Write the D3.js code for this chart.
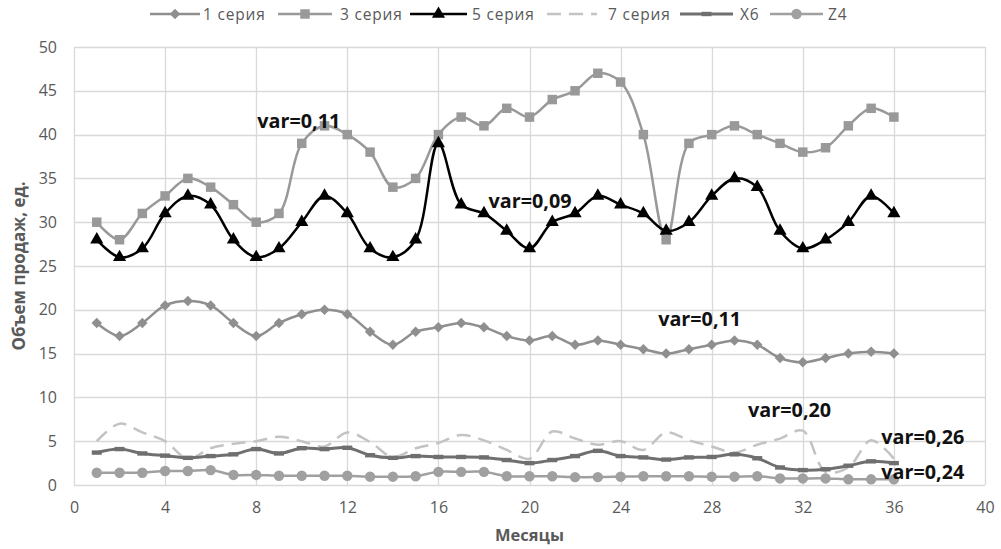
<!DOCTYPE html>
<html>
<head>
<meta charset="utf-8">
<script src="https://cdn.jsdelivr.net/npm/d3@7"></script>
<style>
  html, body { margin: 0; padding: 0; background: #fff; }
  svg { display: block; font-family: "Open Sans", "Noto Sans", sans-serif; }
</style>
</head>
<body>
<svg id="chart" width="1001" height="549"></svg>
<script>
// Monthly sales volumes per series
const months = [1,2,3,4,5,6,7,8,9,10,11,12,13,14,15,16,17,18,19,20,21,22,23,24,25,26,27,28,29,30,31,32,33,34,35,36];
const series1 = [18.5,17,18.5,20.5,21,20.5,18.5,17,18.5,19.5,20,19.5,17.5,16,17.5,18,18.5,18,17,16.5,17,16,16.5,16,15.5,15,15.5,16,16.5,16,14.5,14,14.5,15,15.2,15];
const series3 = [30,28,31,33,35,34,32,30,31,39,41,40,38,34,35,40,42,41,43,42,44,45,47,46,40,28,39,40,41,40,39,38,38.5,41,43,42];
const series5 = [28,26,27,31,33,32,28,26,27,30,33,31,27,26,28,39,32,31,29,27,30,31,33,32,31,29,30,33,35,34,29,27,28,30,33,31];
const series7 = [5,7,6,5,3,4.2,4.7,5,5.5,5,4.4,6,4.9,3.2,4.2,4.8,5.7,5.1,4,3,6.1,5.3,4.6,5,4,6,5.1,4.4,3.7,4.6,5.3,6.2,1.5,2,5.1,3];
const seriesX6 = [3.7,4.1,3.6,3.35,3.1,3.3,3.5,4.1,3.6,4.2,4.1,4.25,3.4,3.1,3.3,3.2,3.2,3.15,2.85,2.5,2.85,3.3,3.9,3.3,3.15,2.9,3.15,3.2,3.5,3.05,2,1.7,1.8,2.2,2.7,2.5];
const seriesZ4 = [1.4,1.4,1.4,1.6,1.6,1.7,1.15,1.15,1.05,1.05,1.05,1.05,0.95,0.95,1,1.5,1.5,1.5,1,1,1,0.9,0.9,0.95,1,1,1,0.95,0.95,1,0.75,0.75,0.75,0.65,0.65,0.65];

const seriesNames = ["1 серия", "3 серия", "5 серия", "7 серия", "X6", "Z4"];
const xTicks = [0,4,8,12,16,20,24,28,32,36,40];
const yTicks = [0,5,10,15,20,25,30,35,40,45,50];

// Variation labels: [text, month position, value position]
const varLabels = [
  ["var=0,11", 8.05, 40.8],
  ["var=0,09", 18.2, 31.6],
  ["var=0,11", 25.65, 18.1],
  ["var=0,20", 29.6, 7.8],
  ["var=0,26", 35.45, 4.7],
  ["var=0,24", 35.45, 0.7]
];

const svg = d3.select("#chart");
const x = d3.scaleLinear().domain([0, 40]).range([74, 985]);
const y = d3.scaleLinear().domain([0, 50]).range([485, 47]);

const gridColor = "#d9d9d9";
const textColor = "#595959";

// Grid
svg.append("g").selectAll("line.h").data(yTicks).join("line")
  .attr("x1", x(0)).attr("x2", x(40))
  .attr("y1", d => Math.round(y(d)) + 0.5).attr("y2", d => Math.round(y(d)) + 0.5)
  .attr("stroke", gridColor).attr("stroke-width", 1.3);
svg.append("g").selectAll("line.v").data(xTicks).join("line")
  .attr("y1", y(0)).attr("y2", y(50))
  .attr("x1", d => Math.round(x(d)) + 0.5).attr("x2", d => Math.round(x(d)) + 0.5)
  .attr("stroke", gridColor).attr("stroke-width", 1.3);

// Axes (labels only, lines come from the grid)
const yAxis = svg.append("g").attr("transform", `translate(${x(0)},0)`)
  .call(d3.axisLeft(y).tickValues(yTicks).tickSize(0).tickPadding(17).tickFormat(d3.format("d")));
const xAxis = svg.append("g").attr("transform", `translate(0,${y(0)})`)
  .call(d3.axisBottom(x).tickValues(xTicks).tickSize(0).tickPadding(17).tickFormat(d3.format("d")));
[yAxis, xAxis].forEach(g => {
  g.select(".domain").remove();
  g.selectAll("text").attr("fill", textColor).attr("font-size", 16)
    .attr("font-family", "'Open Sans', 'Noto Sans', sans-serif");
});

// Axis titles
svg.append("text").attr("x", x(20)).attr("y", 541).attr("text-anchor", "middle")
  .attr("font-size", 16.5).attr("font-weight", "bold").attr("fill", textColor)
  .text("Месяцы");
svg.append("text").attr("transform", `translate(25,${y(25)}) rotate(-90)`)
  .attr("text-anchor", "middle").attr("font-size", 17).attr("font-weight", "bold")
  .attr("fill", textColor).text("Объем продаж, ед.");

// Marker shapes
const sym = {
  diamond: d3.symbol().type(d3.symbolDiamond2).size(70),
  square: d3.symbol().type(d3.symbolSquare).size(90),
  triangle: d3.symbol().type(d3.symbolTriangle).size(75),
  circle: d3.symbol().type(d3.symbolCircle).size(85)
};

const specs = [
  { name: seriesNames[0], data: series1, color: "#8f8f8f", width: 2.5, marker: "diamond" },
  { name: seriesNames[1], data: series3, color: "#999999", width: 2.5, marker: "square" },
  { name: seriesNames[2], data: series5, color: "#000000", width: 2.5, marker: "triangle" },
  { name: seriesNames[3], data: series7, color: "#c3c3c3", width: 2.5, marker: null, dash: "14,8" },
  { name: seriesNames[4], data: seriesX6, color: "#6f6f6f", width: 3, marker: "dash" },
  { name: seriesNames[5], data: seriesZ4, color: "#a0a0a0", width: 2.5, marker: "circle" }
];

const line = d3.line().x(d => x(d[0])).y(d => y(d[1])).curve(d3.curveCatmullRom.alpha(0.5));

function drawMarker(g, kind, color) {
  if (kind === "dash") {
    g.append("rect").attr("x", -5).attr("y", -2.2).attr("width", 10).attr("height", 4.4).attr("fill", color);
  } else if (kind) {
    g.append("path").attr("d", sym[kind]()).attr("fill", color);
  }
}

specs.forEach(s => {
  const pts = months.map((m, i) => [m, s.data[i]]);
  svg.append("path").datum(pts).attr("d", line)
    .attr("fill", "none").attr("stroke", s.color).attr("stroke-width", s.width)
    .attr("stroke-linejoin", "round")
    .attr("stroke-dasharray", s.dash || null);
  if (s.marker) {
    const mg = svg.append("g");
    pts.forEach(p => {
      const g = mg.append("g").attr("transform", `translate(${x(p[0])},${y(p[1])})`);
      drawMarker(g, s.marker, s.color);
    });
  }
});

// Legend
const legendPos = [[150, 203], [278, 340], [410, 472], [547, 608], [680, 740], [770, 828]];
const legendLen = [50, 54, 57, 50, 53, 53];
specs.forEach((s, i) => {
  const [lx, tx] = legendPos[i];
  const cy = 14;
  svg.append("line").attr("x1", lx).attr("x2", lx + legendLen[i]).attr("y1", cy).attr("y2", cy)
    .attr("stroke", s.color).attr("stroke-width", s.width).attr("stroke-dasharray", s.dash || null);
  if (s.marker) {
    const g = svg.append("g").attr("transform", `translate(${lx + legendLen[i] / 2},${cy})`);
    drawMarker(g, s.marker, s.color);
  }
  svg.append("text").attr("x", tx).attr("y", cy + 5.5).attr("font-size", 15.5)
    .attr("letter-spacing", 0.8).attr("fill", textColor).text(s.name);
});

// Variation annotations
svg.append("g").selectAll("text").data(varLabels).join("text")
  .attr("x", d => x(d[1])).attr("y", d => y(d[2]))
  .attr("font-size", 19).attr("font-weight", "bold").attr("fill", "#111")
  .attr("textLength", 83).attr("lengthAdjust", "spacingAndGlyphs")
  .text(d => d[0]);
</script>
</body>
</html>
